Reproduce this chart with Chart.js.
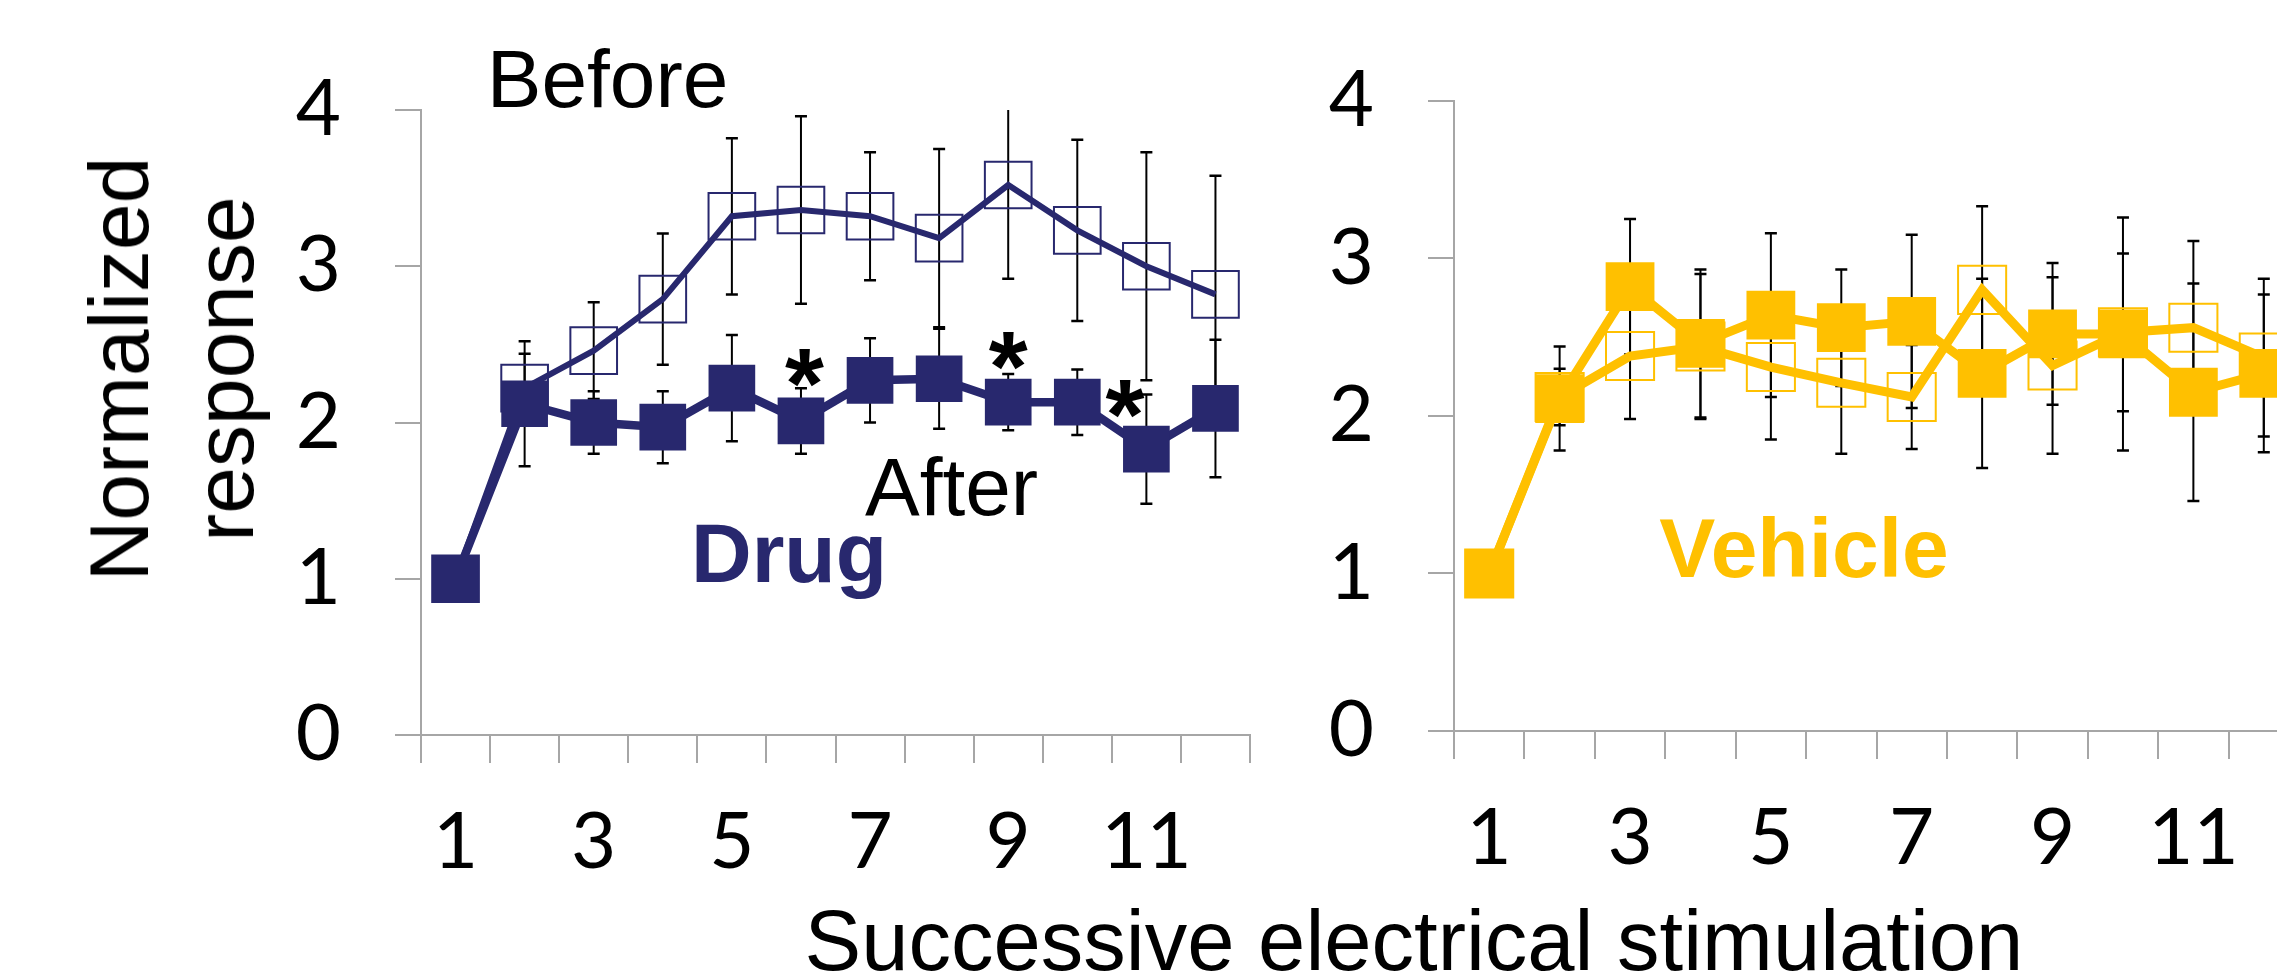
<!DOCTYPE html>
<html>
<head>
<meta charset="utf-8">
<script src="https://cdn.jsdelivr.net/npm/chart.js@4.4.1/dist/chart.umd.min.js"></script>
<style>
  html, body { margin: 0; padding: 0; width: 2277px; height: 977px; overflow: hidden; background: #fff; }
  canvas { position: absolute; top: 0; }
  #drugChart { left: 0; }
  #vehicleChart { left: 1300px; }
  .title { position: absolute; font-family: "Liberation Sans", Arial, sans-serif; font-size: 84px; line-height: 1; white-space: nowrap; color: #000; }
  .ytitle { transform: translate(-50%, -50%) rotate(-90deg); }
</style>
</head>
<body>
<canvas id="drugChart" width="1300" height="977"></canvas>
<canvas id="vehicleChart" width="1035" height="977"></canvas>
<div class="title ytitle" style="left:119px; top:369px;">Normalized</div>
<div class="title ytitle" style="left:224px; top:369px;">response</div>
<div class="title" style="left:1414px; top:898px; font-size:85px; transform:translateX(-50%);">Successive electrical stimulation</div>
<script>
// Data
const categories = ['1', '2', '3', '4', '5', '6', '7', '8', '9', '10', '11', '12'];
const yTicks = [0, 1, 2, 3, 4];

const drugBefore = [1, 2.22, 2.46, 2.79, 3.32, 3.36, 3.32, 3.18, 3.52, 3.23, 3.00, 2.82];
const drugBeforeErr = [0, 0.22, 0.31, 0.42, 0.50, 0.60, 0.41, 0.57, 0.60, 0.58, 0.73, 0.76];
const drugAfter = [1, 2.12, 2.00, 1.97, 2.22, 2.01, 2.27, 2.28, 2.13, 2.13, 1.83, 2.09];
const drugAfterErr = [0, 0.40, 0.20, 0.23, 0.34, 0.21, 0.27, 0.32, 0.18, 0.21, 0.35, 0.44];

const vehBefore = [1, 2.12, 2.38, 2.44, 2.31, 2.21, 2.12, 2.80, 2.32, 2.53, 2.56, 2.37];
const vehBeforeErr = [0, 0.18, 0.40, 0.46, 0.46, 0.45, 0.33, 0.53, 0.56, 0.50, 0.55, 0.50];
const vehAfter = [1, 2.11, 2.82, 2.46, 2.64, 2.56, 2.60, 2.27, 2.52, 2.52, 2.15, 2.27];
const vehAfterErr = [0, 0.33, 0.43, 0.47, 0.52, 0.37, 0.55, 0.60, 0.45, 0.74, 0.69, 0.50];

const navy = '#28286E';
const gold = '#FFC000';
const axisGray = '#A6A6A6';
const tickFont = { family: 'Lato', size: 78 };
const labelFont = '82px "Liberation Sans", Arial, sans-serif';
const boldFont = 'bold 84px "Liberation Sans", Arial, sans-serif';
const starFont = 'bold 100px "Liberation Sans", Arial, sans-serif';

// text placed in data units (category index, value)
const drugLabels = [
    { text: 'Before', x: 0.451, y: 4.021, font: labelFont, color: '#000' },
    { text: 'After', x: 5.927, y: 1.408, font: labelFont, color: '#000' },
    { text: 'Drug', x: 3.408, y: 0.979, font: boldFont, color: navy },
    { text: '*', x: 5.05, y: 2.35, font: starFont, color: '#000', center: true },
    { text: '*', x: 8.0, y: 2.46, font: starFont, color: '#000', center: true },
    { text: '*', x: 9.69, y: 2.15, font: starFont, color: '#000', center: true }
];
const vehicleLabels = [
    { text: 'Vehicle', x: 2.415, y: 0.977, font: boldFont, color: gold }
];

// Error bars drawn under the lines and markers
const errorBars = {
    id: 'errorBars',
    beforeDatasetsDraw(chart) {
        const { ctx, chartArea, scales: { x, y } } = chart;
        ctx.save();
        ctx.beginPath();
        ctx.rect(chartArea.left, chartArea.top, chartArea.right - chartArea.left, chartArea.bottom - chartArea.top);
        ctx.clip();
        ctx.strokeStyle = '#000';
        chart.data.datasets.forEach(ds => {
            ds.data.forEach((v, i) => {
                const e = ds.errors[i];
                if (!e) return;
                const px = x.getPixelForValue(i);
                const top = y.getPixelForValue(v + e);
                const bottom = y.getPixelForValue(v - e);
                ctx.lineWidth = 2;
                ctx.beginPath();
                ctx.moveTo(px, top);
                ctx.lineTo(px, bottom);
                ctx.stroke();
                ctx.lineWidth = 2.5;
                ctx.beginPath();
                ctx.moveTo(px - 6, top);
                ctx.lineTo(px + 6, top);
                ctx.moveTo(px - 6, bottom);
                ctx.lineTo(px + 6, bottom);
                ctx.stroke();
            });
        });
        ctx.restore();
    }
};

function textLabels(items) {
    return {
        id: 'textLabels',
        afterDatasetsDraw(chart) {
            const { ctx, scales: { x, y } } = chart;
            items.forEach(it => {
                ctx.save();
                ctx.font = it.font;
                ctx.fillStyle = it.color;
                ctx.textBaseline = 'alphabetic';
                let px = x.getPixelForValue(it.x);
                let py = y.getPixelForValue(it.y);
                if (it.center) {
                    const m = ctx.measureText(it.text);
                    ctx.textAlign = 'center';
                    py += (m.actualBoundingBoxAscent - m.actualBoundingBoxDescent) / 2;
                } else {
                    ctx.textAlign = 'left';
                }
                ctx.fillText(it.text, px, py);
                ctx.restore();
            });
        }
    };
}

function panelOptions(yWidth, xHeight, padding) {
    return {
        responsive: false,
        animation: false,
        events: [],
        layout: { padding: padding },
        plugins: { legend: { display: false }, tooltip: { enabled: false } },
        elements: { line: { tension: 0 } },
        scales: {
            x: {
                type: 'category',
                offset: true,
                grid: { offset: true, drawOnChartArea: false, tickLength: 28, color: axisGray, lineWidth: 2 },
                border: { color: axisGray, width: 2 },
                ticks: {
                    autoSkip: false,
                    maxRotation: 0,
                    padding: 33,
                    color: '#000',
                    font: tickFont,
                    callback: (v, i) => (i % 2 === 0 ? categories[i] : '')
                },
                afterFit: s => { s.height = xHeight; }
            },
            y: {
                min: yTicks[0],
                max: yTicks[yTicks.length - 1],
                grid: { drawOnChartArea: false, tickLength: 26, color: axisGray, lineWidth: 2 },
                border: { color: axisGray, width: 2 },
                ticks: { stepSize: 1, padding: 54, color: '#000', font: tickFont },
                afterFit: s => { s.width = yWidth; }
            }
        }
    };
}

// Drug panel
new Chart(document.getElementById('drugChart'), {
    type: 'line',
    data: {
        labels: categories,
        datasets: [{
            data: drugAfter,
            errors: drugAfterErr,
            borderColor: navy,
            borderWidth: 8.5,
            pointStyle: 'rect',
            pointRadius: 33,
            pointBackgroundColor: navy,
            pointBorderWidth: 0,
            clip: false
        }, {
            data: drugBefore,
            errors: drugBeforeErr,
            borderColor: navy,
            borderWidth: 6,
            pointStyle: 'rect',
            pointRadius: 33,
            pointBackgroundColor: 'rgba(0,0,0,0)',
            pointBorderColor: navy,
            pointBorderWidth: 2,
            clip: false
        }]
    },
    options: panelOptions(421, 242, { top: 110, right: 50, left: 0, bottom: 0 }),
    plugins: [errorBars, textLabels(drugLabels)]
});

// Vehicle panel
new Chart(document.getElementById('vehicleChart'), {
    type: 'line',
    data: {
        labels: categories,
        datasets: [{
            data: vehAfter,
            errors: vehAfterErr,
            borderColor: gold,
            borderWidth: 9,
            pointStyle: 'rect',
            pointRadius: 34.5,
            pointBackgroundColor: gold,
            pointBorderWidth: 0,
            clip: false
        }, {
            data: vehBefore,
            errors: vehBeforeErr,
            borderColor: gold,
            borderWidth: 9,
            pointStyle: 'rect',
            pointRadius: 34,
            pointBackgroundColor: 'rgba(0,0,0,0)',
            pointBorderColor: gold,
            pointBorderWidth: 2,
            clip: false
        }]
    },
    options: panelOptions(154, 246, { top: 100, right: 0, left: 0, bottom: 0 }),
    plugins: [errorBars, textLabels(vehicleLabels)]
});
</script>
</body>
</html>
